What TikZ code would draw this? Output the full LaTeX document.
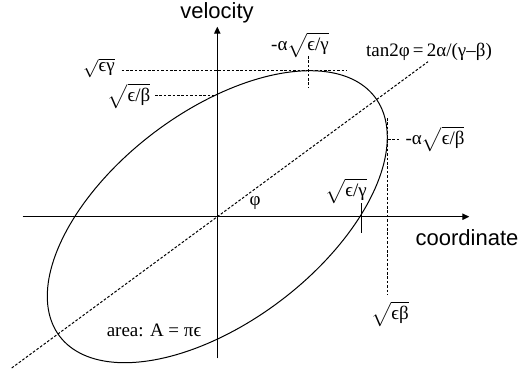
\documentclass[tikz,border=0pt]{standalone}
\usepackage{fontspec}
\setmainfont{Liberation Serif}
\setsansfont{Liberation Sans}
\usetikzlibrary{arrows.meta}
\newcommand\rt[1]{\ensuremath{\sqrt{\mbox{#1}}}}
\begin{document}
\begin{tikzpicture}[x=0.5pt,y=-0.5pt,
  axis/.style={line width=0.65pt,-{Triangle[length=3.5pt,width=3.2pt]}},
  thin/.style={line width=0.5pt},
  dsh/.style={line width=0.5pt,dash pattern=on 1.3pt off 0.9pt},
  lbl/.style={inner sep=0pt,font=\fontsize{9.5}{11}\selectfont},
  axlbl/.style={inner sep=0pt,font=\sffamily\fontsize{11}{13}\selectfont}]
\useasboundingbox (0,0) rectangle (521,371);
% coordinates
\coordinate (O) at (217.3,216.7);
\coordinate (xs) at (22.7,216.7);
\coordinate (xe) at (469.3,216.7);
\coordinate (ys) at (217.3,358.3);
\coordinate (ye) at (217.3,26.7);
\coordinate (d1) at (11.7,368);
\coordinate (d2) at (428,61.7);
\coordinate (h1a) at (121.7,70.7);
\coordinate (h1b) at (346.7,70.7);
\coordinate (h2a) at (155,95);
\coordinate (h2b) at (217.3,95);
\coordinate (v1a) at (308.3,56);
\coordinate (v1b) at (308.3,87.3);
\coordinate (h3a) at (388,139.3);
\coordinate (h3b) at (400,139.3);
\coordinate (v2a) at (387.3,118);
\coordinate (v2b) at (387.3,295);
\coordinate (t1a) at (361.7,203);
\coordinate (t1b) at (361.7,233);
% axes
\draw[axis] (xs) -- (xe);
\draw[axis] (ys) -- (ye);
% ellipse
\draw[thin] plot[variable=\t,domain=0:360,samples=181] ({217.3+170*cos(\t)},{216.7-146*cos(\t-57)}) -- cycle;
% dashed lines
\draw[dsh] (d1) -- (d2);
\draw[dsh] (h1a) -- (h1b);
\draw[dsh] (h2a) -- (h2b);
\draw[dsh] (v1a) -- (v1b);
\draw[dsh] (h3a) -- (h3b);
\draw[dsh] (v2a) -- (v2b);
\draw[thin] (t1a) -- (t1b);
% labels
\node[lbl] (l1) at (99,68) {\rt{ϵγ}};
\node[lbl] (l2) at (129,96) {\rt{ϵ/β}};
\node[lbl] (l3) at (300,45) {-α\rt{ϵ/γ}};
\node[lbl] (l4) at (429,52) {tan2φ\,=\,2α/(γ–β)};
\node[lbl] (l5) at (435,139) {-α\rt{ϵ/β}};
\node[lbl] (l6) at (390,314) {\rt{ϵβ}};
\node[lbl] (l7) at (346,191) {\rt{ϵ/γ}};
\node[lbl] (l8) at (255,203) {φ};
\node[lbl] (l9) at (154,330) {area: A = πϵ};
\node[axlbl] (vel) at (217,13) {velocity};
\node[axlbl] (coo) at (467,238) {coordinate};
\end{tikzpicture}
\end{document}
